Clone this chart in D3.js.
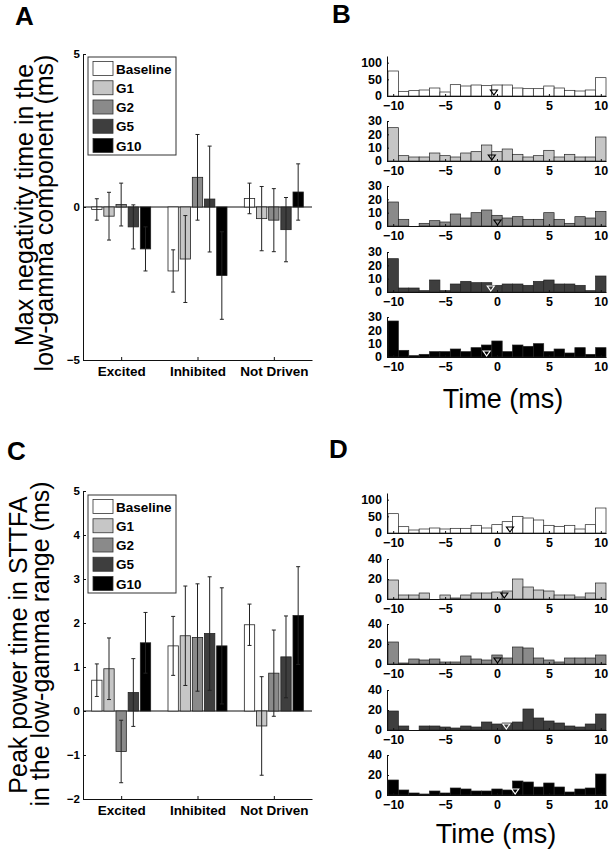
<!DOCTYPE html>
<html><head><meta charset="utf-8">
<script src="https://cdn.jsdelivr.net/npm/d3@7"></script>
<style>body{margin:0;background:#fff}svg{display:block}text{font-family:Arial,"Liberation Sans",sans-serif}</style>
</head><body><svg id="c" width="614" height="852"></svg>
<script>
// ---------- data ----------
const categories = ["Excited", "Inhibited", "Not Driven"];
const seriesNames = ["Baseline", "G1", "G2", "G5", "G10"];
const seriesColors = ["#ffffff", "#c6c6c6", "#8a8a8a", "#3e3e3e", "#000000"];

// Panel A: max negativity time (ms), rows = series, cols = categories
const meanA = [[-0.08, -2.09, 0.28], [-0.30, -1.70, -0.38], [0.08, 0.97, -0.43], [-0.65, 0.26, -0.74], [-1.37, -2.24, 0.49]];
const errA  = [[0.35, 0.69, 0.50], [0.78, 1.42, 1.05], [0.70, 1.40, 1.03], [0.72, 1.73, 1.05], [0.72, 1.43, 0.92]];
const ticksA = [-5, 0, 5];

// Panel C: peak power time (ms)
const meanC = [[0.70, 1.48, 1.96], [0.96, 1.71, -0.34], [-0.92, 1.67, 0.86], [0.42, 1.76, 1.23], [1.55, 1.48, 2.17]];
const errC  = [[0.37, 0.67, 0.47], [0.70, 1.13, 1.12], [0.71, 1.22, 0.98], [0.77, 1.29, 0.93], [0.69, 1.32, 1.11]];
const ticksC = [-2, -1, 0, 1, 2, 3, 4, 5];

// Histograms (bin centres in ms)
const binCenters = [-10, -9, -8, -7, -6, -5, -4, -3, -2, -1, 0, 1, 2, 3, 4, 5, 6, 7, 8, 9, 10];
const histTicksX = [-10, -5, 0, 5, 10];
const histB = [
  [75, 14, 16, 18, 24, 12, 34, 30, 33, 31, 33, 33, 24, 22, 22, 30, 24, 17, 15, 18, 55],
  [25, 4, 3, 3, 6, 4, 3, 6, 7, 12, 7, 9, 5, 3, 4, 8, 3, 5, 3, 3, 18],
  [18, 5, 0, 2, 4, 3, 9, 6, 10, 12, 8, 6, 7, 5, 5, 10, 5, 2, 7, 6, 11],
  [25, 3, 3, 1, 9, 1, 6, 8, 7, 7, 5, 6, 6, 5, 8, 9, 6, 6, 5, 1, 12],
  [27, 5, 1, 2, 4, 4, 6, 4, 7, 9, 12, 4, 9, 8, 10, 4, 6, 3, 7, 2, 7]
];
const medianB = [-0.3, -0.5, 0.05, -0.6, -1.0];
const histD = [
  [58, 19, 9, 12, 15, 12, 14, 14, 23, 15, 25, 34, 50, 45, 39, 23, 20, 23, 12, 25, 75],
  [19, 4, 4, 6, 0, 4, 1, 4, 6, 6, 7, 8, 20, 12, 9, 8, 4, 4, 2, 6, 16],
  [22, 1, 5, 4, 5, 2, 2, 8, 5, 4, 9, 6, 17, 16, 6, 4, 2, 6, 6, 6, 9],
  [19, 4, 0, 4, 4, 3, 2, 4, 3, 8, 6, 7, 8, 21, 12, 9, 7, 4, 3, 6, 16],
  [15, 5, 2, 1, 4, 2, 7, 6, 4, 4, 6, 5, 14, 13, 8, 12, 8, 3, 6, 7, 21]
];
const medianD = [1.25, 0.7, 0.05, 0.9, 1.75];
const histMaxB = [120, 30, 30, 30, 30];
const histTicksB = [[0, 50, 100], [0, 10, 20, 30], [0, 10, 20, 30], [0, 10, 20, 30], [0, 10, 20, 30]];
const histMaxD = [120, 40, 40, 40, 40];
const histTicksD = [[0, 50, 100], [0, 20, 40], [0, 20, 40], [0, 20, 40], [0, 20, 40]];

// ---------- drawing ----------
const svg = d3.select("#c");
svg.append("rect").attr("width", 614).attr("height", 852).attr("fill", "#fff");
const fmt = d3.format("d");

function styleAxis(g, size) {
  g.attr("font-family", "Arial, 'Liberation Sans', sans-serif")
   .attr("font-size", size).attr("font-weight", "bold");
  g.selectAll("path,line").attr("stroke", "#111");
}

function barPanel(cfg) {
  const g = svg.append("g");
  const x = d3.scaleLinear().domain([0.5, 3.5]).range([83, 312]);
  const xs = d3.scaleBand().domain(seriesNames).range([-29.5, 29.5]).paddingInner(0.15);
  const y = d3.scaleLinear().domain(cfg.domain).range([cfg.bottom, cfg.top]);

  g.append("line").attr("x1", x(0.5)).attr("x2", x(3.5)).attr("y1", y(0)).attr("y2", y(0))
    .attr("stroke", "#111").attr("stroke-width", 1);

  seriesNames.forEach((s, si) => {
    categories.forEach((c, ci) => {
      const v = cfg.means[si][ci], e = cfg.errs[si][ci];
      const bx = x(ci + 1) + xs(s);
      g.append("rect").attr("x", bx).attr("width", xs.bandwidth())
        .attr("y", y(Math.max(0, v))).attr("height", Math.abs(y(v) - y(0)))
        .attr("fill", seriesColors[si]).attr("stroke", "#222").attr("stroke-width", 0.8);
      const cx = bx + xs.bandwidth() / 2;
      g.append("line").attr("x1", cx).attr("x2", cx).attr("y1", y(v - e)).attr("y2", y(v + e))
        .attr("stroke", "#222").attr("stroke-width", 1);
      [v - e, v + e].forEach(t => g.append("line").attr("x1", cx - 2).attr("x2", cx + 2)
        .attr("y1", y(t)).attr("y2", y(t)).attr("stroke", "#222").attr("stroke-width", 1));
    });
  });

  const ya = g.append("g").attr("transform", `translate(${x(0.5)},0)`)
    .call(d3.axisLeft(y).tickValues(cfg.ticks).tickFormat(fmt).tickSizeInner(-3).tickSizeOuter(0).tickPadding(3));
  styleAxis(ya, 11.5);
  const xa = g.append("g").attr("transform", `translate(0,${y(cfg.domain[0])})`)
    .call(d3.axisBottom(x).tickValues([1, 2, 3]).tickFormat(i => categories[i - 1])
      .tickSizeInner(-3).tickSizeOuter(0).tickPadding(6));
  styleAxis(xa, 13.5);

  const lg = g.append("g").attr("transform", `translate(88,${cfg.legendTop})`);
  lg.append("rect").attr("width", 88).attr("height", 98).attr("fill", "#fff")
    .attr("stroke", "#333").attr("stroke-width", 1);
  seriesNames.forEach((s, i) => {
    lg.append("rect").attr("x", 5).attr("y", 4.5 + i * 19.25).attr("width", 20).attr("height", 14)
      .attr("fill", seriesColors[i]).attr("stroke", "#333").attr("stroke-width", 0.8);
    lg.append("text").attr("x", 28).attr("y", 16.5 + i * 19.25).attr("font-size", 13.5)
      .attr("font-weight", "bold").text(s);
  });

  cfg.ylabel.forEach((t, i) => {
    svg.append("text").attr("transform", `translate(${cfg.ylabelX[i]},${cfg.ylabelY[i]}) rotate(-90)`)
      .attr("text-anchor", "middle").attr("font-size", 25).text(t);
  });
}

barPanel({ domain: [-5, 5], top: 54, bottom: 360, ticks: ticksA, means: meanA, errs: errA, legendTop: 57,
  ylabel: ["Max negativity time in the", "low-gamma component (ms)"], ylabelX: [33, 53], ylabelY: [205, 213] });
barPanel({ domain: [-2, 5], top: 491, bottom: 799, ticks: ticksC, means: meanC, errs: errC, legendTop: 495,
  ylabel: ["Peak power time in STTFA", "in the low-gamma range (ms)"], ylabelX: [27, 49], ylabelY: [645, 644] });

function histPanel(vals, baseY, maxV, ticks, si, med) {
  const g = svg.append("g");
  const x = d3.scaleLinear().domain([-10.5, 10.5]).range([388, 606]);
  const y = d3.scaleLinear().domain([0, maxV]).range([baseY, baseY - 40]);
  binCenters.forEach((c, i) => {
    if (vals[i] <= 0) return;
    g.append("rect").attr("x", x(c - 0.5)).attr("width", x(c + 0.5) - x(c - 0.5))
      .attr("y", y(vals[i])).attr("height", y(0) - y(vals[i]))
      .attr("fill", seriesColors[si]).attr("stroke", "#222").attr("stroke-width", 0.7);
  });
  const xa = g.append("g").attr("transform", `translate(0,${baseY})`)
    .call(d3.axisBottom(x).tickValues(histTicksX).tickSizeInner(-2).tickSizeOuter(0).tickPadding(5));
  styleAxis(xa, 12.5);
  const ya = g.append("g").attr("transform", `translate(387,0)`)
    .call(d3.axisLeft(y).tickValues(ticks).tickSizeInner(-2).tickSizeOuter(0).tickPadding(5));
  styleAxis(ya, 12.5);
  ya.selectAll(".tick text").attr("dy", "0.3em");
  const mx = x(med);
  g.append("path").attr("d", `M${mx - 3.5},${baseY - 6}L${mx + 3.5},${baseY - 6}L${mx},${baseY - 1}Z`)
    .attr("fill", "none").attr("stroke", si >= 3 ? "#fff" : "#000").attr("stroke-width", 1.2);
}

const baseB = [96, 161, 226, 292, 357];
const baseD = [533, 599, 664, 730, 795];
histB.forEach((h, i) => histPanel(h, baseB[i], histMaxB[i], histTicksB[i], i, medianB[i]));
histD.forEach((h, i) => histPanel(h, baseD[i], histMaxD[i], histTicksD[i], i, medianD[i]));

svg.append("text").attr("x", 503).attr("y", 408).attr("text-anchor", "middle").attr("font-size", 27).text("Time (ms)");
svg.append("text").attr("x", 496).attr("y", 843).attr("text-anchor", "middle").attr("font-size", 27).text("Time (ms)");

[["A", 15, 25], ["B", 332, 23], ["C", 7, 460], ["D", 329, 458]].forEach(([t, px, py]) =>
  svg.append("text").attr("x", px).attr("y", py).attr("font-size", 26).attr("font-weight", "bold").text(t));
</script></body></html>
